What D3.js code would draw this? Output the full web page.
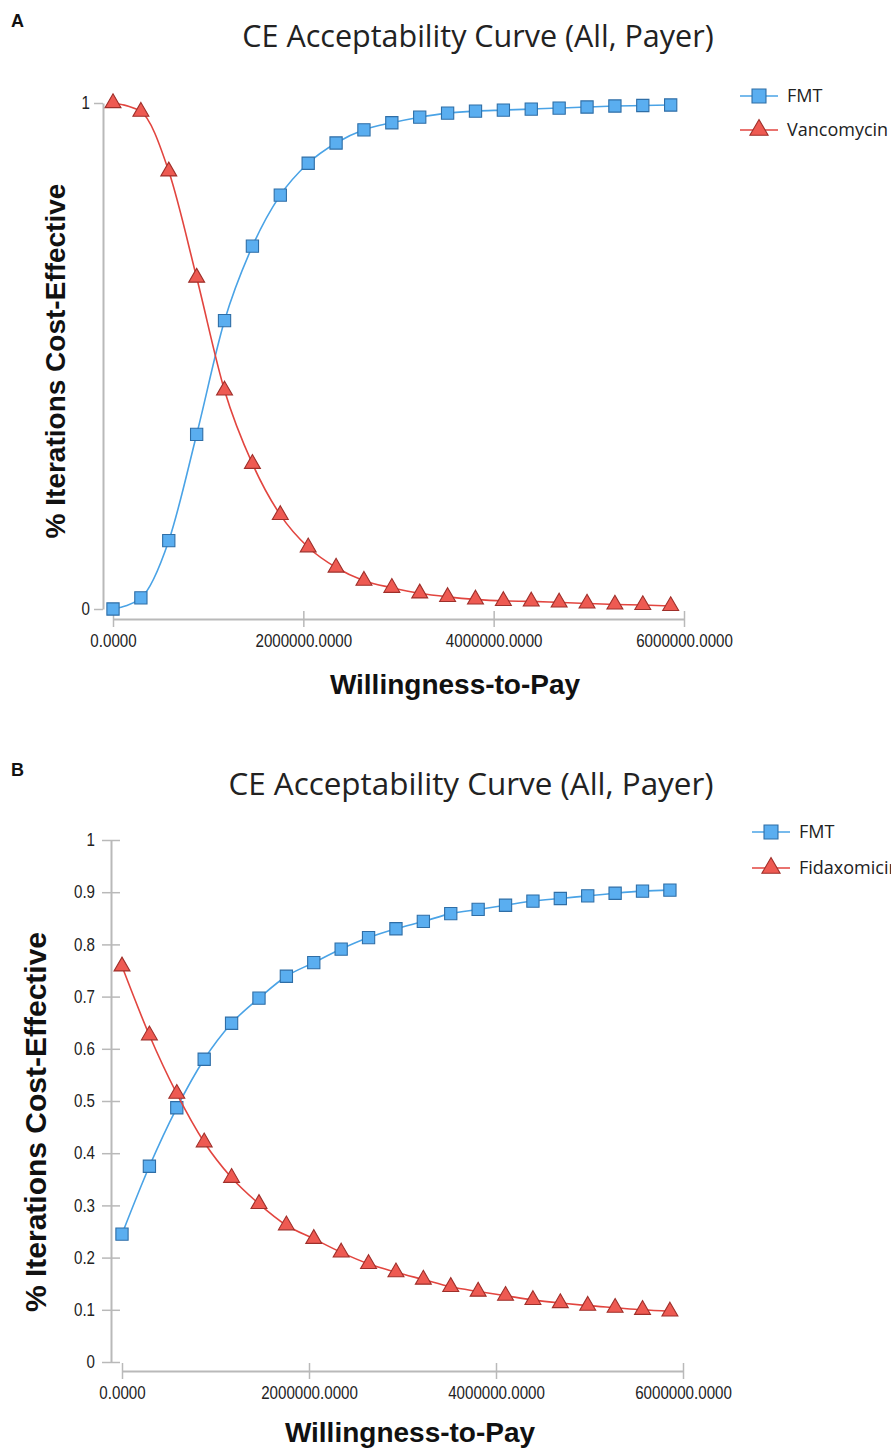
<!DOCTYPE html>
<html>
<head>
<meta charset="utf-8">
<script src="https://cdn.jsdelivr.net/npm/d3@7"></script>
<style>
  body { margin: 0; background: #fff; }
  svg { display: block; }
</style>
</head>
<body>
<svg id="fig" width="891" height="1450"></svg>
<script>
// Willingness-to-pay thresholds evaluated
const wtp = [0, 293000, 586000, 879000, 1172000, 1465000, 1758000, 2051000, 2344000, 2637000,
             2930000, 3223000, 3516000, 3809000, 4102000, 4395000, 4688000, 4981000, 5274000,
             5567000, 5860000];

// Panel A: FMT vs Vancomycin
const fmtA  = [0.000, 0.022, 0.135, 0.345, 0.570, 0.717, 0.818, 0.881, 0.921, 0.947, 0.961,
               0.972, 0.980, 0.984, 0.986, 0.988, 0.990, 0.992, 0.994, 0.995, 0.996];
const vancA = [1.000, 0.983, 0.865, 0.655, 0.432, 0.287, 0.186, 0.122, 0.082, 0.056, 0.042,
               0.031, 0.024, 0.019, 0.016, 0.015, 0.013, 0.011, 0.009, 0.008, 0.006];

// Panel B: FMT vs Fidaxomicin
const fmtB  = [0.245, 0.375, 0.487, 0.580, 0.649, 0.697, 0.739, 0.765, 0.791, 0.813, 0.830,
               0.844, 0.859, 0.867, 0.875, 0.883, 0.888, 0.893, 0.898, 0.902, 0.904];
const fidaB = [0.758, 0.626, 0.514, 0.421, 0.353, 0.303, 0.262, 0.236, 0.210, 0.188, 0.172,
               0.158, 0.144, 0.135, 0.127, 0.119, 0.113, 0.108, 0.104, 0.100, 0.097];

const xTickValues = [0, 2000000, 4000000, 6000000];
const yTicksA = [0, 1];
const yTicksB = [0, 0.1, 0.2, 0.3, 0.4, 0.5, 0.6, 0.7, 0.8, 0.9, 1];

const titleText = "CE Acceptability Curve (All, Payer)";
const yTitleText = "% Iterations Cost-Effective";
const xTitleText = "Willingness-to-Pay";

const BLUE_LINE = "#4aa3e6", BLUE_FILL = "#5aaef0", BLUE_EDGE = "#2f6ea6";
const RED_LINE = "#e2453f", RED_FILL = "#ee5a52", RED_EDGE = "#9e2f2a";
const AXIS = "#b9b9b9";
const TICK_FONT = "'Liberation Sans', Arial, sans-serif";
const BOLD_FONT = "'Liberation Sans', Arial, sans-serif";
const TEXT_FONT = "'Open Sans', sans-serif";

const svg = d3.select("#fig");

const panels = [
  {
    tag: "A", tagY: 27,
    yTicks: yTicksA, yTickFmt: d3.format("d"), tickBothSides: false,
    xRange: [113, 684], yRange: [609, 103], yAxisX: 103, xAxisY: 619,
    title: [478, 47, 30.5], yTitle: [65, 361, 28], xTitle: [455, 694, 28],
    legend: [740, 96, 34],
    series: [
      { name: "FMT", values: fmtA, kind: "square" },
      { name: "Vancomycin", values: vancA, kind: "triangle" }
    ]
  },
  {
    tag: "B", tagY: 776,
    yTicks: yTicksB, yTickFmt: d => d === 0 || d === 1 ? String(d) : d3.format(".1f")(d), tickBothSides: true,
    xRange: [122, 683], yRange: [1362, 840], yAxisX: 111, xAxisY: 1371,
    title: [471, 795, 31.4], yTitle: [46, 1122, 30], xTitle: [410, 1442, 28],
    legend: [752, 832, 36],
    series: [
      { name: "FMT", values: fmtB, kind: "square" },
      { name: "Fidaxomicin", values: fidaB, kind: "triangle" }
    ]
  }
];

const styleOf = kind => kind === "square"
  ? { line: BLUE_LINE, fill: BLUE_FILL, edge: BLUE_EDGE, symbol: d3.symbolSquare, size: 150 }
  : { line: RED_LINE, fill: RED_FILL, edge: RED_EDGE, symbol: d3.symbolTriangle, size: 110 };

// narrow the tick numerals to a condensed look
function condense(sel, factor) {
  sel.each(function () {
    const w = this.getComputedTextLength();
    d3.select(this).attr("textLength", w * factor).attr("lengthAdjust", "spacingAndGlyphs");
  });
}

panels.forEach(p => {
  const g = svg.append("g");
  const x = d3.scaleLinear().domain([0, 6000000]).range(p.xRange);
  const y = d3.scaleLinear().domain([0, 1]).range(p.yRange);

  // panel letter
  g.append("text").attr("x", 11).attr("y", p.tagY)
    .attr("font-family", BOLD_FONT).attr("font-weight", "bold")
    .attr("font-size", 18).attr("fill", "#111").text(p.tag);

  // title
  g.append("text").attr("x", p.title[0]).attr("y", p.title[1])
    .attr("text-anchor", "middle").attr("font-family", TEXT_FONT)
    .attr("font-size", p.title[2]).attr("fill", "#222").text(titleText);

  // y axis
  const yAxis = d3.axisLeft(y).tickValues(p.yTicks).tickFormat(p.yTickFmt)
    .tickSizeOuter(0).tickSizeInner(9).tickPadding(5);
  const ya = g.append("g").attr("transform", `translate(${p.yAxisX},0)`).call(yAxis);
  ya.select(".domain").attr("stroke", AXIS).attr("stroke-width", 2);
  ya.selectAll(".tick line").attr("stroke", AXIS).attr("stroke-width", 1.5);
  if (p.tickBothSides) ya.selectAll(".tick line").attr("x1", 9).attr("x2", -9);
  ya.selectAll(".tick text").attr("font-family", TICK_FONT)
    .attr("font-size", 18).attr("fill", "#222").attr("x", p.tickBothSides ? -16 : -13)
    .call(condense, 0.84);

  // x axis
  const xAxis = d3.axisBottom(x).tickValues(xTickValues).tickFormat(d => d.toFixed(4))
    .tickSizeOuter(0).tickSizeInner(8);
  const xa = g.append("g").attr("transform", `translate(0,${p.xAxisY})`).call(xAxis);
  xa.select(".domain").attr("stroke", AXIS).attr("stroke-width", 2);
  xa.selectAll(".tick line").attr("stroke", AXIS).attr("stroke-width", 1.5).attr("y1", -8).attr("y2", 8);
  xa.selectAll(".tick text").attr("font-family", TICK_FONT)
    .attr("font-size", 18).attr("fill", "#222").attr("y", 15)
    .call(condense, 0.84);

  // axis titles
  g.append("text")
    .attr("transform", `translate(${p.yTitle[0]},${p.yTitle[1]}) rotate(-90)`)
    .attr("text-anchor", "middle").attr("font-family", BOLD_FONT)
    .attr("font-weight", "bold").attr("font-size", p.yTitle[2]).attr("fill", "#111").text(yTitleText);
  g.append("text").attr("x", p.xTitle[0]).attr("y", p.xTitle[1])
    .attr("text-anchor", "middle").attr("font-family", BOLD_FONT)
    .attr("font-weight", "bold").attr("font-size", p.xTitle[2]).attr("fill", "#111").text(xTitleText);

  // series
  p.series.forEach(s => {
    const st = styleOf(s.kind);
    const pts = s.values.map((v, i) => [wtp[i], v]);
    g.append("path").datum(pts)
      .attr("fill", "none").attr("stroke", st.line).attr("stroke-width", 1.6)
      .attr("d", d3.line().x(d => x(d[0])).y(d => y(d[1])).curve(d3.curveMonotoneX));
    g.selectAll(null).data(pts).enter().append("path")
      .attr("transform", d => `translate(${x(d[0])},${y(d[1])})`)
      .attr("d", d3.symbol().type(st.symbol).size(st.size))
      .attr("fill", st.fill).attr("stroke", st.edge).attr("stroke-width", 1.1);
  });

  // legend
  const [lx, ly, gap] = p.legend;
  p.series.forEach((s, i) => {
    const st = styleOf(s.kind);
    const yy = ly + i * gap;
    g.append("line").attr("x1", lx).attr("x2", lx + 38).attr("y1", yy).attr("y2", yy)
      .attr("stroke", st.line).attr("stroke-width", 1.6);
    g.append("path").attr("transform", `translate(${lx + 19},${yy})`)
      .attr("d", d3.symbol().type(st.symbol).size(st.size * 1.3))
      .attr("fill", st.fill).attr("stroke", st.edge).attr("stroke-width", 1.1);
    g.append("text").attr("x", lx + 47).attr("y", yy).attr("dy", "0.35em")
      .attr("font-family", TEXT_FONT).attr("font-size", 18).attr("fill", "#222")
      .text(s.name);
  });
});
</script>
</body>
</html>
